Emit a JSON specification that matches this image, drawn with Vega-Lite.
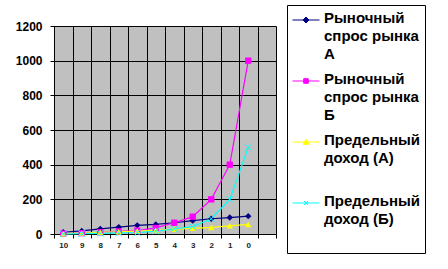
{
  "$schema": "https://vega.github.io/schema/vega-lite/v6.json",
  "width": 222,
  "height": 208,
  "autosize": "none",
  "padding": {"left": 54, "top": 26, "right": 172, "bottom": 35},
  "background": "white",
  "config": {
    "view": {"fill": "#C0C0C0", "stroke": null},
    "font": "Liberation Sans"
  },
  "data": {
    "values": [
      {"q": "10", "series": "Рыночный спрос рынка А", "value": 10},
      {"q": "9", "series": "Рыночный спрос рынка А", "value": 18},
      {"q": "8", "series": "Рыночный спрос рынка А", "value": 30},
      {"q": "7", "series": "Рыночный спрос рынка А", "value": 40},
      {"q": "6", "series": "Рыночный спрос рынка А", "value": 50},
      {"q": "5", "series": "Рыночный спрос рынка А", "value": 55},
      {"q": "4", "series": "Рыночный спрос рынка А", "value": 65},
      {"q": "3", "series": "Рыночный спрос рынка А", "value": 77},
      {"q": "2", "series": "Рыночный спрос рынка А", "value": 88},
      {"q": "1", "series": "Рыночный спрос рынка А", "value": 95},
      {"q": "0", "series": "Рыночный спрос рынка А", "value": 103},
      {"q": "10", "series": "Рыночный спрос рынка Б", "value": 2},
      {"q": "9", "series": "Рыночный спрос рынка Б", "value": 5},
      {"q": "8", "series": "Рыночный спрос рынка Б", "value": 10},
      {"q": "7", "series": "Рыночный спрос рынка Б", "value": 15},
      {"q": "6", "series": "Рыночный спрос рынка Б", "value": 20},
      {"q": "5", "series": "Рыночный спрос рынка Б", "value": 35},
      {"q": "4", "series": "Рыночный спрос рынка Б", "value": 65},
      {"q": "3", "series": "Рыночный спрос рынка Б", "value": 100},
      {"q": "2", "series": "Рыночный спрос рынка Б", "value": 200},
      {"q": "1", "series": "Рыночный спрос рынка Б", "value": 400},
      {"q": "0", "series": "Рыночный спрос рынка Б", "value": 1000},
      {"q": "10", "series": "Предельный доход (А)", "value": 2},
      {"q": "9", "series": "Предельный доход (А)", "value": 5},
      {"q": "8", "series": "Предельный доход (А)", "value": 10},
      {"q": "7", "series": "Предельный доход (А)", "value": 13},
      {"q": "6", "series": "Предельный доход (А)", "value": 17},
      {"q": "5", "series": "Предельный доход (А)", "value": 21},
      {"q": "4", "series": "Предельный доход (А)", "value": 28},
      {"q": "3", "series": "Предельный доход (А)", "value": 33},
      {"q": "2", "series": "Предельный доход (А)", "value": 38},
      {"q": "1", "series": "Предельный доход (А)", "value": 47},
      {"q": "0", "series": "Предельный доход (А)", "value": 55},
      {"q": "10", "series": "Предельный доход (Б)", "value": 0},
      {"q": "9", "series": "Предельный доход (Б)", "value": 2},
      {"q": "8", "series": "Предельный доход (Б)", "value": 4},
      {"q": "7", "series": "Предельный доход (Б)", "value": 6},
      {"q": "6", "series": "Предельный доход (Б)", "value": 8},
      {"q": "5", "series": "Предельный доход (Б)", "value": 17},
      {"q": "4", "series": "Предельный доход (Б)", "value": 29},
      {"q": "3", "series": "Предельный доход (Б)", "value": 42},
      {"q": "2", "series": "Предельный доход (Б)", "value": 88},
      {"q": "1", "series": "Предельный доход (Б)", "value": 200},
      {"q": "0", "series": "Предельный доход (Б)", "value": 500}
    ]
  },
  "encoding": {
    "x": {
      "field": "q",
      "type": "ordinal",
      "bandPosition": 0.5,
      "scale": {
        "type": "band",
        "domain": ["10", "9", "8", "7", "6", "5", "4", "3", "2", "1", "0", " "],
        "paddingInner": 0,
        "paddingOuter": 0
      },
      "axis": {
        "title": null,
        "tickBand": "extent",
        "grid": true,
        "gridColor": "black",
        "gridOpacity": 1,
        "gridWidth": 1,
        "domainColor": "black",
        "tickColor": "black",
        "tickSize": 4,
        "labelAngle": 0,
        "labelFontSize": 8,
        "labelFontWeight": "bold",
        "labelColor": "#222222",
        "labelPadding": 3
      }
    },
    "y": {
      "field": "value",
      "type": "quantitative",
      "scale": {"domain": [0, 1200], "nice": false, "zero": true},
      "axis": {
        "title": null,
        "values": [0, 200, 400, 600, 800, 1000, 1200],
        "format": "d",
        "grid": true,
        "gridColor": "black",
        "gridOpacity": 1,
        "domainColor": "black",
        "tickColor": "black",
        "tickSize": 4,
        "labelFontSize": 12,
        "labelFontWeight": "bold",
        "labelColor": "black",
        "labelPadding": 8
      }
    },
    "color": {
      "field": "series",
      "type": "nominal",
      "scale": {
        "domain": ["Рыночный спрос рынка А", "Рыночный спрос рынка Б", "Предельный доход (А)", "Предельный доход (Б)"],
        "range": ["#000080", "#FF00FF", "#FFFF00", "#00FFFF"]
      },
      "legend": null
    }
  },
  "layer": [
    {
      "mark": {"type": "line", "strokeWidth": 1.2},
      "encoding": {
        "color": {
          "field": "series",
          "type": "nominal",
          "scale": {
            "domain": ["Рыночный спрос рынка А", "Рыночный спрос рынка Б", "Предельный доход (А)", "Предельный доход (Б)"],
            "range": ["#000080", "#FF00FF", "#FFFF00", "#00FFFF"]
          },
          "legend": {
            "title": null,
            "orient": "none",
            "legendX": 233,
            "legendY": -21,
            "padding": 5,
            "strokeColor": "black",
            "fillColor": "white",
            "rowPadding": 6,
            "clipHeight": 55,
            "labelOffset": 4,
            "labelLimit": 0,
            "labelFont": "Liberation Sans",
            "labelFontSize": 15,
            "labelFontWeight": "bold",
            "labelColor": "black",
            "labelBaseline": "top",
            "symbolSize": 729,
            "labelExpr": "datum.label == 'Рыночный спрос рынка А' ? ['Рыночный', 'спрос рынка', 'А'] : datum.label == 'Рыночный спрос рынка Б' ? ['Рыночный', 'спрос рынка', 'Б'] : datum.label == 'Предельный доход (А)' ? ['Предельный', 'доход (А)'] : ['Предельный', 'доход (Б)']",
            "encode": {
              "labels": {"update": {"lineHeight": {"value": 18}, "y": {"value": 1}}},
              "symbols": {
                "update": {
                  "y": {"value": 10},
                  "shape": {"signal": "datum.index == 0 ? 'M-1,0H1M0,-0.22L0.22,0L0,0.22L-0.22,0Z' : datum.index == 1 ? 'M-1,0H1M-0.17,-0.17H0.17V0.17H-0.17Z' : datum.index == 2 ? 'M-1,0H1M0,-0.2L0.22,0.17H-0.22Z' : 'M-1,0H1M-0.15,-0.15L0.15,0.15M-0.15,0.15L0.15,-0.15'"},
                  "fill": {"scale": "color", "field": "value"},
                  "stroke": {"scale": "color", "field": "value"},
                  "strokeWidth": {"value": 1},
                  "opacity": {"value": 1}
                }
              }
            }
          }
        }
      }
    },
    {
      "transform": [{"filter": "datum.series != 'Предельный доход (Б)'"}],
      "mark": {"type": "point", "filled": true, "opacity": 1, "size": 40},
      "encoding": {
        "shape": {
          "field": "series",
          "type": "nominal",
          "scale": {
            "domain": ["Рыночный спрос рынка А", "Рыночный спрос рынка Б", "Предельный доход (А)"],
            "range": ["diamond", "square", "triangle-up"]
          },
          "legend": null
        }
      }
    },
    {
      "transform": [{"filter": "datum.series == 'Предельный доход (Б)'"}],
      "mark": {"type": "point", "filled": false, "opacity": 1, "size": 40, "strokeWidth": 1, "shape": "M-1,-1L1,1M-1,1L1,-1"}
    }
  ]
}
